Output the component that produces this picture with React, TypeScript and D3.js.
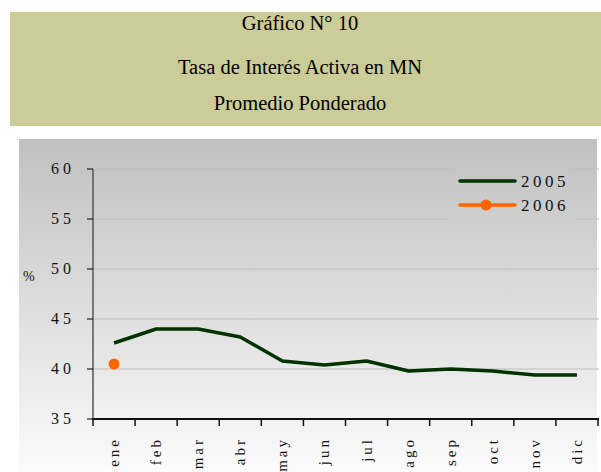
import React from "react";
import * as d3 from "d3";

const months = ["ene", "feb", "mar", "abr", "may", "jun", "jul", "ago", "sep", "oct", "nov", "dic"];
const series2005 = [42.6, 44.0, 44.0, 43.2, 40.8, 40.4, 40.8, 39.8, 40.0, 39.8, 39.4, 39.4];
const series2006 = [40.5];
const yTicks = [35, 40, 45, 50, 55, 60];
const titleLines = ["Gráfico N° 10", "Tasa de Interés Activa en MN", "Promedio Ponderado"];
const legendLabels = ["2005", "2006"];

const W = 601;
const H = 472;
const FONT = "Liberation Serif, DejaVu Serif, serif";

export default function App() {
  const x = d3.scaleBand<string>().domain(months).range([93, 598]);
  const y = d3.scaleLinear().domain([35, 60]).range([419, 169]);
  const line = d3
    .line<number>()
    .x((_, i) => (x(months[i]) as number) + x.bandwidth() / 2)
    .y((d) => y(d));

  const tickXs = months.map((m) => x(m) as number).concat([598]);

  return (
    <svg
      width={W}
      height={H}
      style={{ position: "absolute", left: 0, top: 0, background: "#fff", fontFamily: FONT }}
    >
      <defs>
        <linearGradient id="bg" gradientUnits="userSpaceOnUse" x1="0" y1="139" x2="0" y2="470">
          <stop offset="0" stopColor="#c0c0c0" />
          <stop offset="0.5" stopColor="#dddddd" />
          <stop offset="1" stopColor="#fbfbfb" />
        </linearGradient>
      </defs>
      {/* Title box */}
      <rect x={10} y={12} width={591} height={114} fill="#cccc99" />
      {titleLines.map((t, i) => (
        <text key={t} x={300} y={[30, 74, 110][i]} textAnchor="middle" fontSize={20.5} fill="#000">
          {t}
        </text>
      ))}

      {/* Chart background */}
      <rect x={19} y={139} width={578} height={333} fill="url(#bg)" />

      {/* gridlines */}
      {yTicks.slice(1).map((v) => (
        <line key={v} x1={93} x2={599} y1={y(v)} y2={y(v)} stroke="#bdbdbd" strokeWidth={1} />
      ))}

      {/* legend background */}
      <rect x={449} y={163} width={126} height={60} fill="url(#bg)" />

      {/* y axis */}
      <line x1={93} x2={93} y1={169} y2={419} stroke="#555" strokeWidth={1.5} />
      {yTicks.map((v) => (
        <g key={v}>
          <line x1={87} x2={93} y1={y(v)} y2={y(v)} stroke="#222" strokeWidth={1.2} />
          <text x={75} y={y(v) + 5} textAnchor="end" fontSize={16} letterSpacing={4} fill="#111">
            {String(v)}
          </text>
        </g>
      ))}
      <text x={23} y={281} fontSize={14} fill="#111">%</text>

      {/* x axis */}
      <line x1={92} x2={599} y1={419} y2={419} stroke="#111" strokeWidth={2} />
      {tickXs.map((tx, i) => (
        <line key={i} x1={tx} x2={tx} y1={419} y2={426} stroke="#111" strokeWidth={1.5} />
      ))}
      {months.map((m, i) => {
        const cx = (x(m) as number) + x.bandwidth() / 2 + 5;
        return (
          <text
            key={m}
            transform={`translate(${cx},437) rotate(-90)`}
            textAnchor="end"
            fontSize={15}
            letterSpacing={3}
            fill="#111"
          >
            {m}
          </text>
        );
      })}

      {/* series */}
      <path d={line(series2005) || ""} fill="none" stroke="#003300" strokeWidth={3.5} strokeLinejoin="round" />
      {series2006.map((v, i) => (
        <circle
          key={i}
          cx={(x(months[i]) as number) + x.bandwidth() / 2}
          cy={y(v)}
          r={5.5}
          fill="#ff6600"
        />
      ))}

      {/* legend */}
      <line x1={460} x2={515} y1={181} y2={181} stroke="#003300" strokeWidth={3.5} strokeLinecap="round" />
      <line x1={460} x2={515} y1={205} y2={205} stroke="#ff6600" strokeWidth={3.5} strokeLinecap="round" />
      <circle cx={486} cy={205} r={5.5} fill="#ff6600" />
      {legendLabels.map((l, i) => (
        <text key={l} x={521} y={187 + i * 24} fontSize={17} letterSpacing={3.5} fill="#111">
          {l}
        </text>
      ))}
    </svg>
  );
}
